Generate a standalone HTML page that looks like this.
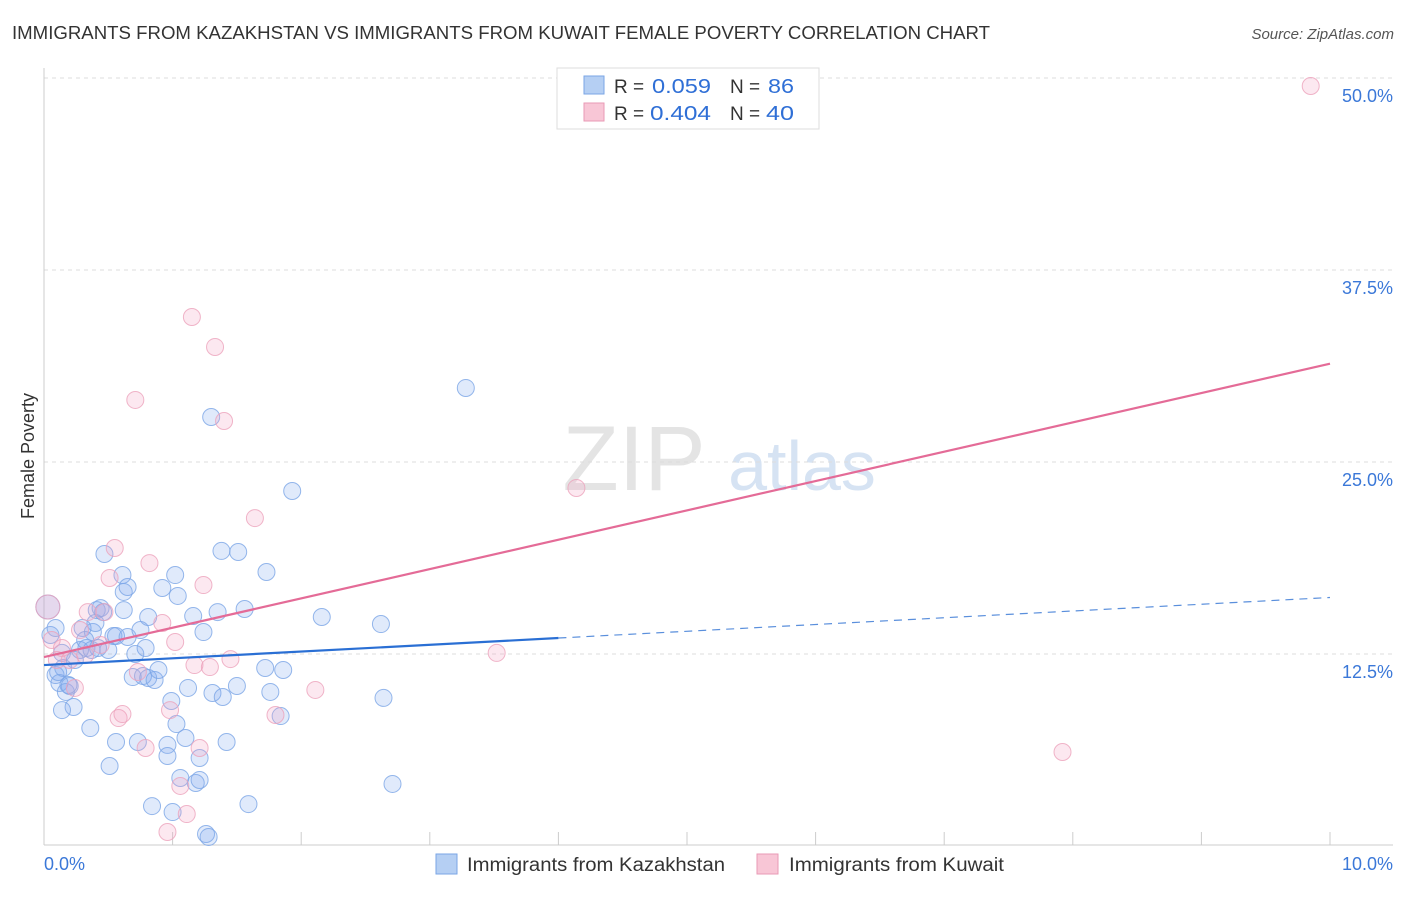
<!DOCTYPE html>
<html><head><meta charset="utf-8"><style>
body{margin:0;background:#fff;font-family:"Liberation Sans",sans-serif;}
svg text{font-family:"Liberation Sans",sans-serif;}
</style></head><body>
<svg id="chart" width="1406" height="892" xmlns="http://www.w3.org/2000/svg">
<text x="12" y="39" font-size="18" fill="#333" textLength="978" lengthAdjust="spacingAndGlyphs">IMMIGRANTS FROM KAZAKHSTAN VS IMMIGRANTS FROM KUWAIT FEMALE POVERTY CORRELATION CHART</text>
<text x="1394" y="39" font-size="15" fill="#555" font-style="italic" text-anchor="end">Source: ZipAtlas.com</text>
<g>
<text x="634" y="490" font-size="92" fill="#e4e4e4" font-family="Liberation Serif" text-anchor="middle">ZIP</text>
<text x="802" y="490" font-size="70" fill="#d6e3f3" text-anchor="middle">atlas</text>
</g>
<g id="grid"></g>
<g id="axes"></g>
<g id="marks"></g>
<text transform="translate(34,456) rotate(-90)" font-size="18" fill="#333" text-anchor="middle">Female Poverty</text>
<g>
<rect x="557" y="68" width="262" height="61" fill="#fff" stroke="#ddd"/>
<rect x="584" y="76" width="20" height="18" fill="#b5cff3" stroke="#7aa6e6"/>
<text x="614" y="93" font-size="19" fill="#333">R =</text>
<text x="652" y="93" font-size="20" fill="#2f6fd6" textLength="59" lengthAdjust="spacingAndGlyphs">0.059</text>
<text x="730" y="93" font-size="19" fill="#333">N =</text>
<text x="768" y="93" font-size="20" fill="#2f6fd6" textLength="26" lengthAdjust="spacingAndGlyphs">86</text>
<rect x="584" y="103" width="20" height="18" fill="#f8c6d6" stroke="#e99ab5"/>
<text x="614" y="120" font-size="19" fill="#333">R =</text>
<text x="650" y="120" font-size="20" fill="#2f6fd6" textLength="61" lengthAdjust="spacingAndGlyphs">0.404</text>
<text x="730" y="120" font-size="19" fill="#333">N =</text>
<text x="766" y="120" font-size="20" fill="#2f6fd6" textLength="28" lengthAdjust="spacingAndGlyphs">40</text>
</g>
<g>
<rect x="436" y="854" width="21" height="20" fill="#b5cff3" stroke="#7aa6e6"/>
<text x="467" y="871" font-size="19" fill="#333" textLength="258" lengthAdjust="spacingAndGlyphs">Immigrants from Kazakhstan</text>
<rect x="757" y="854" width="21" height="20" fill="#f8c6d6" stroke="#e99ab5"/>
<text x="789" y="871" font-size="19" fill="#333" textLength="215" lengthAdjust="spacingAndGlyphs">Immigrants from Kuwait</text>
</g>
</svg>
<script>
const yTicks=[12.5,25,37.5,50];
const yTickLabels=["12.5%","25.0%","37.5%","50.0%"];
const xTickLabels=["0.0%","10.0%"];
const blueX=[0.03,0.05,0.09,0.12,0.15,0.17,0.20,0.23,0.14,0.28,0.30,0.33,0.36,0.38,0.40,0.41,0.44,0.46,0.42,0.47,0.50,0.51,0.54,0.56,0.56,0.61,0.62,0.62,0.65,0.65,0.69,0.71,0.73,0.75,0.77,0.79,0.81,0.81,0.84,0.86,0.89,0.92,0.96,0.96,0.99,1.00,1.02,1.03,1.04,1.06,1.10,1.12,1.16,1.18,1.21,1.21,1.24,1.26,1.28,1.30,1.31,1.35,1.38,1.39,1.42,1.50,1.51,1.56,1.59,1.72,1.73,1.76,1.84,1.86,1.93,2.16,2.62,2.64,2.71,3.28,0.09,0.19,0.11,0.24,0.32,0.37,0.14];
const blueY=[15.56,13.74,11.13,10.61,11.59,10.03,10.42,9.05,12.57,12.76,14.19,12.89,7.68,13.93,14.52,15.36,15.49,15.23,12.89,19.01,12.76,5.21,13.67,6.77,13.67,17.64,15.36,16.54,16.86,13.61,11.00,12.5,6.77,14.06,11.07,12.89,14.91,10.94,2.60,10.81,11.46,16.80,6.58,5.86,9.44,2.21,17.64,7.94,16.28,4.43,7.03,10.29,14.97,4.10,4.30,5.73,13.93,0.78,0.59,27.93,9.96,15.23,19.21,9.70,6.77,10.42,19.14,15.43,2.73,11.59,17.84,10.03,8.46,11.46,23.11,14.91,14.45,9.64,4.04,29.82,14.19,10.48,11.33,12.11,13.41,12.76,8.85];
const pinkX=[0.03,0.06,0.10,0.14,0.20,0.24,0.32,0.34,0.44,0.47,0.51,0.55,0.58,0.61,0.71,0.73,0.79,0.82,0.92,0.96,0.98,1.02,1.06,1.11,1.15,1.17,1.21,1.24,1.29,1.33,1.40,1.45,1.64,1.80,2.11,3.52,4.14,7.92,9.85,0.28];
const pinkY=[15.56,13.41,12.11,12.89,12.11,10.29,12.43,15.23,13.09,15.23,17.45,19.40,8.33,8.59,29.04,11.33,6.38,18.42,14.52,0.91,8.85,13.28,3.91,2.08,34.44,11.78,6.38,16.99,11.65,32.49,27.67,12.17,21.35,8.53,10.16,12.57,23.31,6.12,49.48,14.06];
const blueTrend=[11.78,0.44];
const pinkTrend=[12.3,1.91];
const NS="http://www.w3.org/2000/svg";
const X=v=>44+v*128.6, Y=v=>846-v*15.36;
function mk(tag,attrs,parent){const e=document.createElementNS(NS,tag);for(const k in attrs)e.setAttribute(k,attrs[k]);parent.appendChild(e);return e;}
const grid=document.getElementById('grid'),axes=document.getElementById('axes'),marks=document.getElementById('marks');
yTicks.forEach((t,i)=>{
 const l=mk('line',{x1:44,x2:1393,y1:Y(t),y2:Y(t),stroke:'#ddd','stroke-dasharray':'4,4'},grid);
 
 
 const tx=mk('text',{x:1393,y:Y(t)+24,'font-size':18,fill:'#3b78d8','text-anchor':'end'},axes);
 tx.textContent=yTickLabels[i];
 
 
});
const ya=mk('line',{x1:44,x2:44,y1:68,y2:845,stroke:'#ccc'},axes);


const xa=mk('line',{x1:44,x2:1393,y1:845,y2:845,stroke:'#ccc'},axes);


for(let i=0;i<=10;i++){const t=mk('line',{x1:X(i),x2:X(i),y1:832,y2:845,stroke:'#ccc'},axes);
 
 }
[[0,'start',44],[10,'end',1393]].forEach((d,i)=>{const t=mk('text',{x:d[2],y:870,'font-size':18,fill:'#3b78d8','text-anchor':d[1]},axes);t.textContent=xTickLabels[i];
 
 });
function dots(xs,ys,fill,stroke,name){xs.forEach((x,i)=>{const c=mk('circle',{cx:X(x),cy:Y(ys[i]),r:i===0?12:8.5,fill:fill,stroke:stroke,'stroke-width':1,'stroke-opacity':0.8},marks);
 
 });}
dots(blueX,blueY,'rgba(130,172,238,0.25)','#7ba5e6','kazakhstan-point');
dots(pinkX,pinkY,'rgba(245,165,195,0.25)','#eca2bc','kuwait-point');
const b1=mk('line',{x1:X(0),y1:Y(blueTrend[0]),x2:X(4),y2:Y(blueTrend[0]+4*blueTrend[1]),stroke:'#2a6fd4','stroke-width':2.2},marks);


const b2=mk('line',{x1:X(4),y1:Y(blueTrend[0]+4*blueTrend[1]),x2:X(10),y2:Y(blueTrend[0]+10*blueTrend[1]),stroke:'#5a8fdc','stroke-width':1.2,'stroke-dasharray':'8,6'},marks);


const p1=mk('line',{x1:X(0),y1:Y(pinkTrend[0]),x2:X(10),y2:Y(pinkTrend[0]+10*pinkTrend[1]),stroke:'#e46b97','stroke-width':2.2},marks);


</script>
</body></html>
